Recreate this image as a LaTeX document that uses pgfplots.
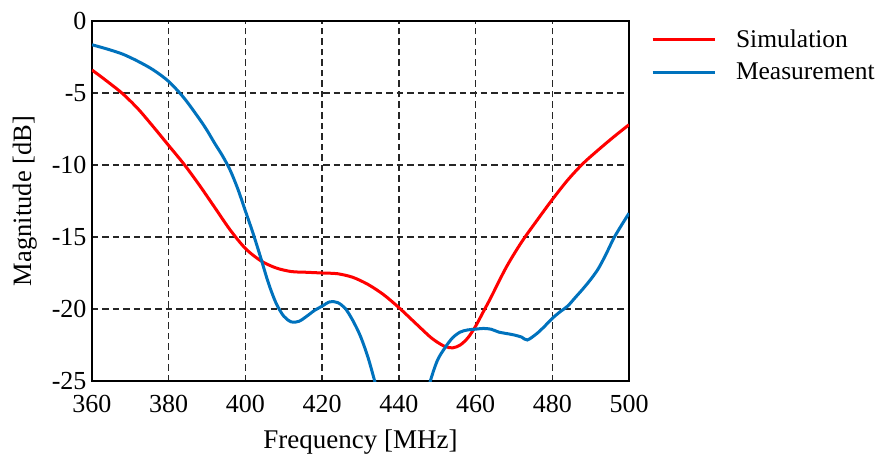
\documentclass[border=0pt]{standalone}
\usepackage{fontspec}
\setmainfont{Liberation Serif}
\usepackage{pgfplots}
\pgfplotsset{compat=1.18}
\definecolor{simred}{RGB}{255,0,0}
\definecolor{measblue}{RGB}{0,114,189}
\begin{document}
\begin{tikzpicture}
\path[use as bounding box] (-92pt,-83pt) rectangle (793pt,381pt);
\begin{axis}[
  at={(0pt,0pt)}, anchor=south west,
  scale only axis, width=537pt, height=360pt,
  xmin=360, xmax=500, ymin=-25, ymax=0,
  xtick={360,380,...,500}, ytick={-25,-20,...,0},
  yticklabels={-25,-20,-15,-10,-5,0},
  major tick length=0pt,
  grid=major,
  major grid style={black!85, dashed, line width=1.3pt, dash pattern=on 6.5pt off 4pt},
  axis line style={black, line width=1.5pt},
  /pgf/number format/assume math mode=true,
  ticklabel style={font=\rmfamily\fontsize{26}{28}\selectfont},
  xticklabel style={yshift=-11pt},
  yticklabel style={xshift=-2pt},
  xlabel={Frequency [MHz]}, ylabel={Magnitude [dB]},
  xlabel style={font=\rmfamily\fontsize{27}{29}\selectfont, yshift=-10pt},
  ylabel style={font=\rmfamily\fontsize{26.5}{28}\selectfont, yshift=8pt},
  legend style={draw=none, fill=none, at={(1.035,0.987)}, anchor=north west,
    font=\rmfamily\fontsize{25.5}{27}\selectfont, row sep=10pt, column sep=18pt,
    legend cell align=left},
  legend image code/.code={\draw[#1] (0pt,0pt) -- (62pt,0pt);},
  clip=true,
]
\addplot[simred, line width=3pt, smooth] coordinates {
(360,-3.4) (364,-4.2) (368,-5.05) (372,-6.1) (376,-7.35) (380,-8.65) (384,-9.95)
(388,-11.4) (392,-12.95) (396,-14.5) (400,-15.8) (404,-16.65) (408,-17.15)
(412,-17.4) (416,-17.45) (420,-17.5) (424,-17.55) (428,-17.8) (432,-18.3)
(436,-19.0) (440,-19.9) (444,-20.9) (448,-21.9) (450,-22.3) (452,-22.6) (454,-22.7)
(456,-22.5) (458,-22.0) (460,-21.2) (462,-20.2) (464,-19.2) (468,-17.1)
(472,-15.35) (476,-13.85) (480,-12.4) (484,-11.05) (488,-9.9) (492,-8.95)
(496,-8.05) (500,-7.2)
};
\addlegendentry{Simulation}
\addplot[measblue, line width=3pt, smooth] coordinates {
(360,-1.65) (364,-1.95) (368,-2.3) (372,-2.8) (376,-3.4) (380,-4.2) (384,-5.35)
(388,-6.8) (390,-7.6) (392,-8.5) (394,-9.35) (396,-10.35) (398,-11.65) (400,-13.2)
(402,-14.75) (404,-16.45) (406,-18.2) (408,-19.6) (410,-20.5) (412,-20.9)
(414,-20.85) (416,-20.5) (418,-20.1) (420,-19.8) (422,-19.5) (424,-19.55)
(426,-19.95) (428,-20.8) (430,-21.9) (432,-23.4) (434,-25.3) (436,-27.3)
(438,-29.0) (440,-30.0) (442,-30.2) (444,-29.5) (446,-27.5) (448,-25.2)
(450,-23.6) (452,-22.7) (454,-22.0) (456,-21.6) (458,-21.45) (460,-21.4)
(462,-21.35) (464,-21.4) (466,-21.6) (468,-21.7) (470,-21.8) (472,-21.95)
(473.5,-22.15) (476,-21.7) (478,-21.2) (480,-20.65) (482,-20.2) (484,-19.8)
(486,-19.2) (488,-18.6) (490,-17.95) (492,-17.2) (494,-16.2) (496,-15.1)
(498,-14.2) (500,-13.35)
};
\addlegendentry{Measurement}
\end{axis}
\end{tikzpicture}
\end{document}
